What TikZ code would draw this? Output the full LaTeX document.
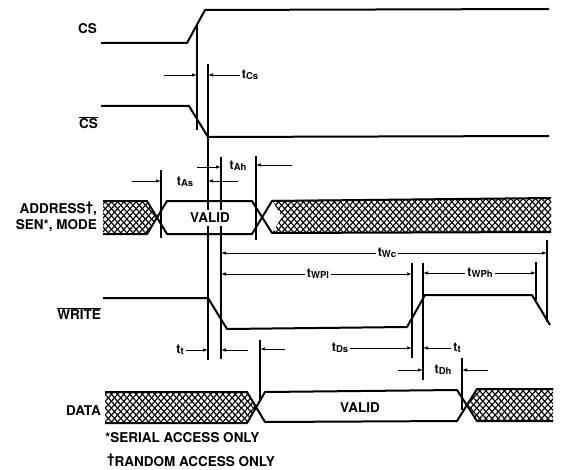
\documentclass[tikz,border=0pt]{standalone}
\usepackage{fontspec}
\setmainfont{TeX Gyre Heros}
\usepackage{tikz}
\usetikzlibrary{arrows.meta,patterns.meta}

\newcommand{\tsub}[1]{t\raisebox{-1.5pt}{\fontsize{9.5}{10}\selectfont #1}}

\begin{document}
\begin{tikzpicture}[
	x=1pt,
	y=-1pt,
	wave/.style={
		line width=2pt,
		line join=round
	},
	rule/.style={
		line width=1.1pt
	},
	dimarrow/.style={
		-{Latex[length=5pt,width=3.5pt]},
		line width=0.8pt
	},
	crossfill/.style={
		preaction={pattern={Lines[angle=48,distance=4.6pt,line width=1.15pt]}},
		postaction={pattern={Lines[angle=-48,distance=4.6pt,line width=1.15pt]}}
	},
	siglabel/.style={
		font=\bfseries\fontsize{13.5}{15}\selectfont,
		inner sep=0pt
	},
	validlabel/.style={
		font=\bfseries\fontsize{13.5}{15}\selectfont,
		fill=white,
		inner xsep=1pt,
		inner ysep=3pt
	},
	timelabel/.style={
		font=\bfseries\fontsize{12.5}{14}\selectfont,
		inner sep=2pt
	}
	]
	\useasboundingbox (0,0) rectangle (561,470);
	
	% Vertical timing rules
	\foreach \name/\xa/\ya/\yb in {
		cs/197/25/130, b/208/64/360, c/221/157/359, as/161/170/238,
		ah/256/156/240, wr/412/263/358, wf/423/263/380, wh/536/262/300,
		wc/547/240/322, ds/260/340/400, dh/462/358/410}{
		\coordinate (\name_top) at (\xa,\ya);
		\coordinate (\name_bot) at (\xa,\yb);
		\draw[rule] (\name_top) -- (\name_bot);
	}
	
	% Hatched bands
	\path[crossfill] (103,201) -- (147,201) -- (157,217) -- (147,234) -- (103,234) -- cycle;
	\path[crossfill] (282,217) -- (272,200) -- (551,198) -- (551,232) -- (272,233) -- cycle;
	\path[crossfill] (105,392) -- (247,392) -- (257,407) -- (247,423) -- (105,423) -- cycle;
	\path[crossfill] (477,389) -- (553,389) -- (553,421) -- (477,421) -- (468,405) -- cycle;
	
	% CS
	\coordinate (cs_a) at (101,43);
	\coordinate (cs_b) at (187,43);
	\coordinate (cs_c) at (205,10);
	\coordinate (cs_d) at (549,9);
	\draw[wave] (cs_a) -- (cs_b) -- (cs_c) -- (cs_d);
	
	% CS bar
	\coordinate (csn_a) at (101,106);
	\coordinate (csn_b) at (189,106);
	\coordinate (csn_c) at (208,137);
	\coordinate (csn_d) at (549,136);
	\draw[wave] (csn_a) -- (csn_b) -- (csn_c) -- (csn_d);
	
	% Address
	\coordinate (adr_a) at (103,201);
	\coordinate (adr_b) at (147,201);
	\coordinate (adr_c) at (167,234);
	\coordinate (adr_d) at (252,234);
	\coordinate (adr_e) at (272,201);
	\coordinate (adr_f) at (551,198);
	\coordinate (adr_g) at (103,234);
	\coordinate (adr_h) at (147,234);
	\coordinate (adr_i) at (167,201);
	\coordinate (adr_j) at (252,201);
	\coordinate (adr_k) at (272,233);
	\coordinate (adr_l) at (551,232);
	\draw[wave] (adr_a) -- (adr_b) -- (adr_c) -- (adr_d) -- (adr_e) -- (adr_f);
	\draw[wave] (adr_g) -- (adr_h) -- (adr_i) -- (adr_j) -- (adr_k) -- (adr_l);
	
	% Write
	\coordinate (wr_a) at (103,298);
	\coordinate (wr_b) at (208,298);
	\coordinate (wr_c) at (227,329);
	\coordinate (wr_d) at (407,327);
	\coordinate (wr_e) at (425,295);
	\coordinate (wr_f) at (532,295);
	\coordinate (wr_g) at (550,325);
	\draw[wave] (wr_a) -- (wr_b) -- (wr_c) -- (wr_d) -- (wr_e) -- (wr_f) -- (wr_g);
	
	% Data
	\coordinate (dat_a) at (105,392);
	\coordinate (dat_b) at (247,392);
	\coordinate (dat_c) at (265,422);
	\coordinate (dat_d) at (457,421);
	\coordinate (dat_e) at (477,389);
	\coordinate (dat_f) at (553,389);
	\coordinate (dat_g) at (105,423);
	\coordinate (dat_h) at (247,423);
	\coordinate (dat_i) at (265,392);
	\coordinate (dat_j) at (457,390);
	\coordinate (dat_k) at (477,421);
	\coordinate (dat_l) at (553,421);
	\draw[wave] (dat_a) -- (dat_b) -- (dat_c) -- (dat_d) -- (dat_e) -- (dat_f);
	\draw[wave] (dat_g) -- (dat_h) -- (dat_i) -- (dat_j) -- (dat_k) -- (dat_l);
	
	% Signal names
	\node[siglabel,anchor=east] (cs_name) at (97,29) {CS};
	\node[siglabel,anchor=east] (csn_name) at (98,123) {$\overline{\mbox{CS}}$};
	\node[siglabel,anchor=east] (adr_name) at (97,209) {ADDRESS\raisebox{2pt}{†},};
	\node[siglabel,anchor=east] (sen_name) at (97,226) {SEN*, MODE};
	\node[siglabel,anchor=east] (wr_name) at (101,314) {$\overline{\mbox{WRITE}}$};
	\node[siglabel,anchor=east] (dat_name) at (101,411) {DATA};
	\node[validlabel] (adr_valid) at (210,218) {VALID};
	\node[validlabel] (dat_valid) at (360,408) {VALID};
	\node[siglabel,anchor=west] (note_serial) at (105,438) {*SERIAL ACCESS ONLY};
	\node[siglabel,anchor=west] (note_random) at (107,460) {\raisebox{3pt}{†}RANDOM ACCESS ONLY};
	
	% Timing labels
	\node[timelabel] (tcs) at (250,75) {\tsub{Cs}};
	\node[timelabel] (tas) at (185,182) {\tsub{As}};
	\node[timelabel] (tah) at (238,166) {\tsub{Ah}};
	\node[timelabel] (twc) at (387,253) {\tsub{Wc}};
	\node[timelabel] (twpl) at (318,274) {\tsub{WPl}};
	\node[timelabel] (twph) at (480,273) {\tsub{WPh}};
	\node[timelabel] (tt_a) at (180,350) {\tsub{t}};
	\node[timelabel] (tds) at (340,348) {\tsub{Ds}};
	\node[timelabel] (tt_b) at (457,348) {\tsub{t}};
	\node[timelabel] (tdh) at (443,370) {\tsub{Dh}};
	
	% Free ends of the outer arrows
	\coordinate (cs_stub) at (164,75);
	\coordinate (as_stub) at (132,181);
	\coordinate (as_back) at (238,181);
	\coordinate (ah_stub) at (197,167);
	\coordinate (ah_back) at (292,165);
	\coordinate (tta_back) at (248,350);
	\coordinate (ds_back) at (285,349);
	\coordinate (dh_stub) at (398,370);
	\coordinate (dh_back) at (488,370);
	
	% Arrows
	\draw[dimarrow] (cs_stub) -- (cs_stub -| cs_top);
	\draw[dimarrow] (tcs) -- (tcs -| b_top);
	\draw[dimarrow] (as_stub) -- (as_stub -| as_top);
	\draw[dimarrow] (as_back) -- (as_back -| b_top);
	\draw[dimarrow] (ah_stub) -- (ah_stub -| c_top);
	\draw[dimarrow] (ah_back) -- (ah_back -| ah_top);
	\draw[dimarrow] (twc) -- (twc -| c_top);
	\draw[dimarrow] (twc) -- (twc -| wc_top);
	\draw[dimarrow] (twpl) -- (twpl -| c_top);
	\draw[dimarrow] (twpl) -- (twpl -| wr_top);
	\draw[dimarrow] (twph) -- (twph -| wf_top);
	\draw[dimarrow] (twph) -- (twph -| wh_top);
	\draw[dimarrow] (tt_a) -- (tt_a -| b_top);
	\draw[dimarrow] (tta_back) -- (tta_back -| c_top);
	\draw[dimarrow] (ds_back) -- (ds_back -| ds_top);
	\draw[dimarrow] (tds) -- (tds -| wr_top);
	\draw[dimarrow] (tt_b) -- (tt_b -| wf_top);
	\draw[dimarrow] (dh_stub) -- (dh_stub -| wf_top);
	\draw[dimarrow] (dh_back) -- (dh_back -| dh_top);
	
\end{tikzpicture}
\end{document}
